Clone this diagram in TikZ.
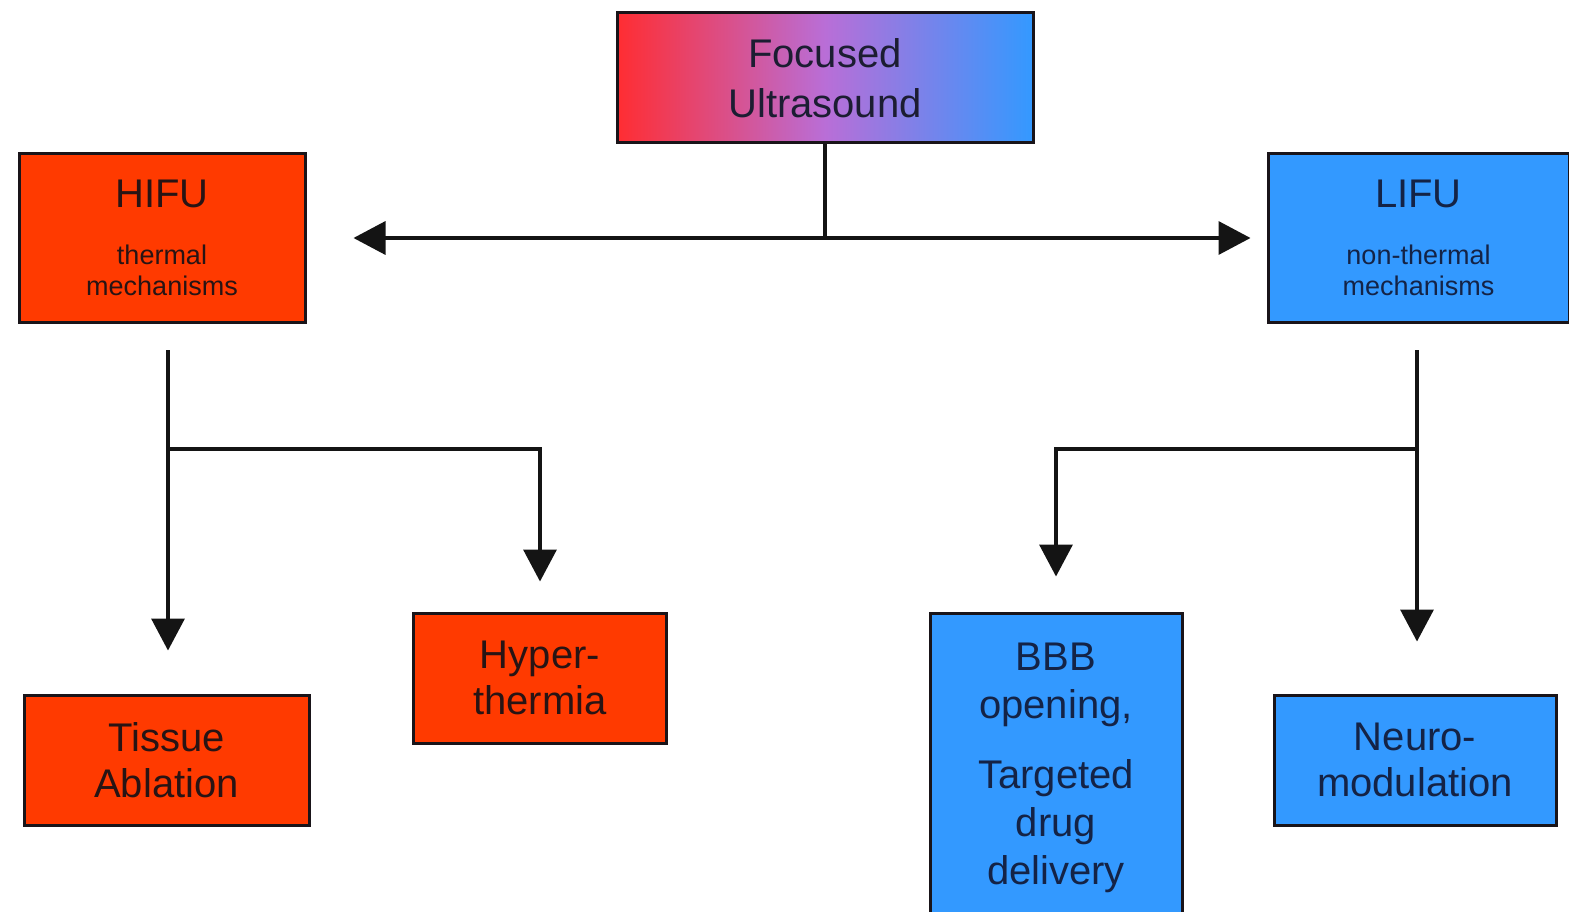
\documentclass[tikz,border=0pt]{standalone}
\usepackage{fontspec}
\setmainfont{Liberation Sans}
\usetikzlibrary{arrows.meta}
\definecolor{hot}{RGB}{255,58,0}
\definecolor{cool}{RGB}{51,153,255}
\definecolor{gradL}{RGB}{255,45,50}
\definecolor{gradM}{RGB}{185,110,215}
\definecolor{edge}{RGB}{25,20,25}
\definecolor{txthot}{RGB}{40,20,20}
\definecolor{txtcool}{RGB}{20,35,70}
\begin{document}
\begin{tikzpicture}[x=1pt,y=-1pt,
  box/.style={draw=edge, line width=3pt, rectangle, inner sep=0pt, align=center,
    font=\fontsize{40}{48}\selectfont},
  hotbox/.style={box, fill=hot, text=txthot},
  coolbox/.style={box, fill=cool, text=txtcool},
  smallfont/.style={font=\fontsize{27}{31}\selectfont},
  arr/.style={line width=3.5pt, draw=black!92, -{Triangle[length=32pt,width=33pt]}}]
\useasboundingbox[fill=white] (0,0) rectangle (1569,912);

\node[box, left color=gradL, right color=cool, middle color=gradM, text=txtcool!60!txthot,
  minimum width=416pt, minimum height=130pt, font=\fontsize{40}{50}\selectfont]
  (fus) at (825,78) {Focused\\Ultrasound};

\node[hotbox, smallfont, minimum width=286pt, minimum height=168pt] (hifu) at (162,238)
  {{\fontsize{40}{48}\selectfont HIFU}\\[26pt]thermal\\mechanisms};
\node[coolbox, smallfont, minimum width=301pt, minimum height=168pt] (lifu) at (1418.5,238)
  {{\fontsize{40}{48}\selectfont LIFU}\\[26pt]non-thermal\\mechanisms};

\node[hotbox, minimum width=285pt, minimum height=130pt, font=\fontsize{40}{46}\selectfont]
  (tissue) at (166.5,760) {Tissue\\Ablation};
\node[hotbox, minimum width=253pt, minimum height=130pt, font=\fontsize{40}{46}\selectfont]
  (hyper) at (540,678) {Hyper-\\thermia};
\node[coolbox, minimum width=252pt, minimum height=310pt] (bbb) at (1056,768)
  {BBB\\opening,\\[22pt]Targeted\\drug\\delivery};
\node[coolbox, minimum width=282pt, minimum height=130pt, font=\fontsize{40}{46}\selectfont]
  (neuro) at (1415,760) {Neuro-\\modulation};

\coordinate (hs) at (168,350);
\coordinate (hj) at (168,449);
\coordinate (ls) at (1417,350);
\coordinate (lj) at (1417,449);

\draw[arr, shorten >=47pt] (fus.south) |- (hifu.east);
\draw[arr, shorten >=16pt] (fus.south) |- (lifu.west);
\draw[arr, shorten >=43pt] (hs) -- (hs |- tissue.north);
\draw[arr, shorten >=30pt] (hj) -| (hyper.north);
\draw[arr, shorten >=52pt] (ls) -- (ls |- neuro.north);
\draw[arr, shorten >=35pt] (lj) -| (bbb.north);
\end{tikzpicture}
\end{document}
